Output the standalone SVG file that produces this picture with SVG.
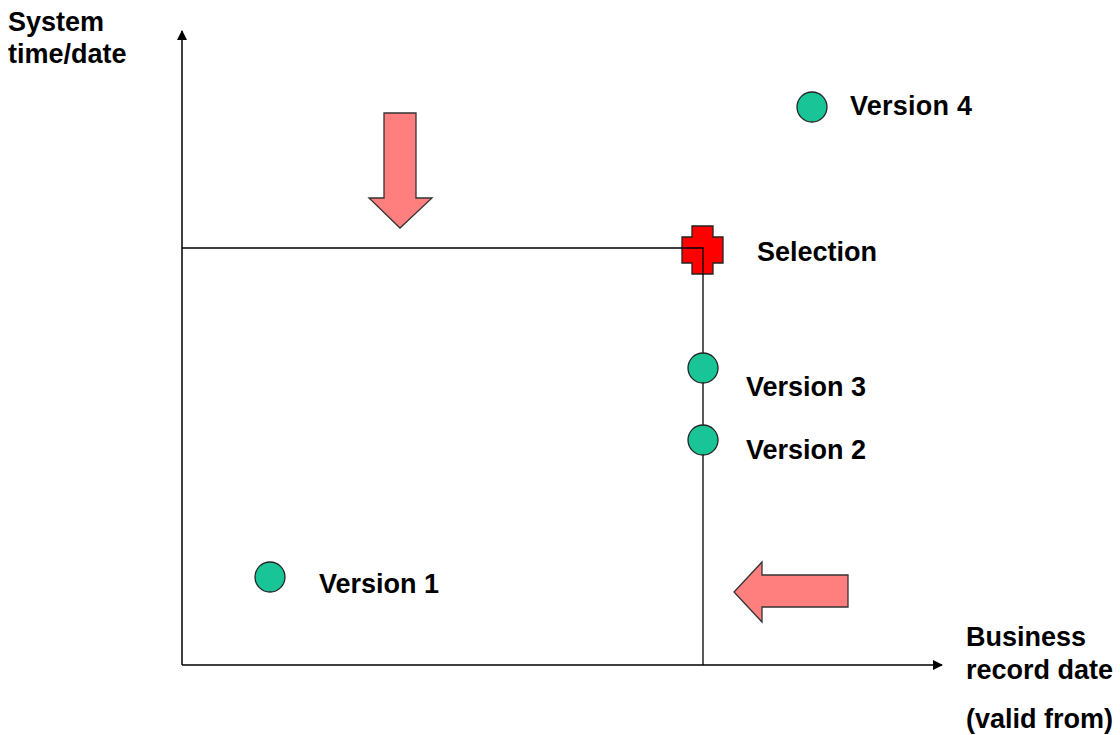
<svg xmlns="http://www.w3.org/2000/svg" width="1120" height="735" viewBox="0 0 1120 735">
<style>
text{font-family:"Liberation Sans",Arial,sans-serif;font-weight:bold;font-size:27px;fill:#000}
.ax{stroke:#000;stroke-width:1.5;fill:none}
.ln{stroke:#000;stroke-width:1.3;fill:none}
.dot{fill:#19c596;stroke:#222;stroke-width:1.3}
.big{fill:#ff7f7f;stroke:#333;stroke-width:1.3}
</style>
<defs>
<marker id="ah" markerWidth="10" markerHeight="10" refX="9" refY="5" orient="auto" markerUnits="userSpaceOnUse">
<path d="M0,0 L10,5 L0,10 z" fill="#000"/>
</marker>
</defs>
<rect width="1120" height="735" fill="#fff"/>
<g id="connectors">
<line class="ax" x1="182" y1="665" x2="182" y2="31" marker-end="url(#ah)"/>
<line class="ax" x1="182" y1="665" x2="942" y2="665" marker-end="url(#ah)"/>
</g>
<g id="arrow-down"><path class="big" d="M384,113 H416 V198 H432 L400,228 L369,198 H384 Z"/></g>
<g id="arrow-left"><path class="big" d="M848,575 V607 H762 V622 L734,592 L762,562 V575 Z"/></g>
<g id="selection">
<path d="M692,226 H713 V237 H723 V263 H713 V274 H692 V263 H682 V237 H692 Z" fill="#ff0000" stroke="#222" stroke-width="1.3"/>
<text x="757" y="261">Selection</text>
</g>
<g id="guides">
<polyline class="ln" points="182,248 703,248 703,665"/>
</g>
<g id="version4"><circle class="dot" cx="812" cy="107" r="15"/><text x="850" y="115" textLength="122">Version 4</text></g>
<g id="version3"><circle class="dot" cx="703" cy="368" r="15"/><text x="746" y="396">Version 3</text></g>
<g id="version2"><circle class="dot" cx="703" cy="440" r="15"/><text x="746" y="459">Version 2</text></g>
<g id="version1"><circle class="dot" cx="270" cy="577" r="15"/><text x="319" y="593">Version 1</text></g>
<g id="y-label"><text x="8" y="31">System</text><text x="8" y="63">time/date</text></g>
<g id="x-label"><text x="966" y="646">Business</text><text x="966" y="679">record date</text><text x="966" y="728">(valid from)</text></g>
</svg>
